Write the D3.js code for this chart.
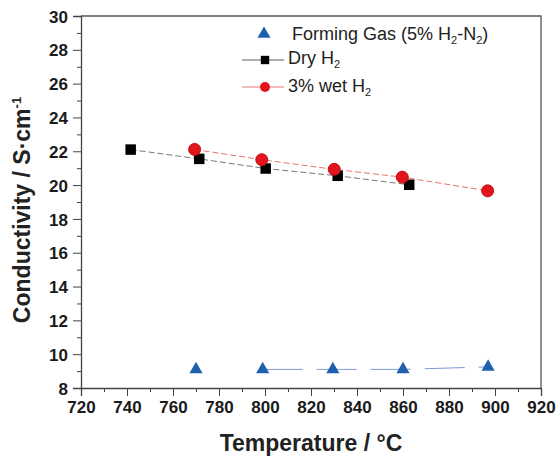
<!DOCTYPE html>
<html>
<head>
<meta charset="utf-8">
<script src="https://cdn.jsdelivr.net/npm/d3@7"></script>
<style>
  body { margin: 0; background: #fff; }
</style>
</head>
<body>
<svg width="558" height="457"></svg>
<script>
// temperatures in degC, conductivity in S/cm
var formingT = [770, 799, 829.5, 860, 897];
var formingC = [9.1, 9.1, 9.1, 9.1, 9.25];
var dryT = [741.6, 771.4, 800.3, 831.6, 862.7];
var dryC = [22.1, 21.55, 20.98, 20.55, 20.02];
var wetT = [769.4, 798.6, 830.1, 859.7, 896.8];
var wetC = [22.11, 21.5, 20.93, 20.47, 19.66];
var xTicks = [720, 740, 760, 780, 800, 820, 840, 860, 880, 900, 920];
var yTicks = [8, 10, 12, 14, 16, 18, 20, 22, 24, 26, 28, 30];

var font = "'Liberation Sans', Arial, sans-serif";
var svg = d3.select("svg").attr("font-family", font),
  margin = { top: 16, right: 17, bottom: 69, left: 81 },
  width = +svg.attr("width") - margin.left - margin.right,
  height = +svg.attr("height") - margin.top - margin.bottom;

var x = d3.scaleLinear().domain([720, 920]).range([0, width]);
var y = d3.scaleLinear().domain([8, 30]).range([height, 0]);

var g = svg.append("g").attr("transform", "translate(" + margin.left + "," + margin.top + ")");

function zip(a, b) {
  return a.map(function (v, i) { return [v, b[i]]; });
}

// minor ticks
g.append("g")
  .attr("transform", "translate(0," + height + ")")
  .call(d3.axisBottom(x).tickValues(d3.range(730, 920, 20)).tickSize(4).tickFormat(""))
  .call(function (s) { s.select(".domain").remove(); s.selectAll("line").attr("stroke", "#444"); });
g.append("g")
  .call(d3.axisLeft(y).tickValues(d3.range(9, 30, 2)).tickSize(4).tickFormat(""))
  .call(function (s) { s.select(".domain").remove(); s.selectAll("line").attr("stroke", "#444"); });

var xAxis = g.append("g")
  .attr("transform", "translate(0," + height + ")")
  .call(d3.axisBottom(x).tickValues(xTicks).tickSize(8).tickPadding(5));
var yAxis = g.append("g")
  .call(d3.axisLeft(y).tickValues(yTicks).tickSize(8).tickPadding(5));
[xAxis, yAxis].forEach(function (a) {
  a.select(".domain").attr("stroke", "#444").attr("stroke-width", 1.3);
  a.selectAll(".tick line").attr("stroke", "#444");
  a.selectAll(".tick text")
    .attr("font-family", font)
    .attr("font-size", 17)
    .attr("font-weight", 700)
    .attr("fill", "#1a1a1a");
});
yAxis.selectAll(".tick text").attr("dy", "0.36em");

// frame top and right
g.append("path")
  .attr("d", "M0,0H" + width + "V" + height)
  .attr("fill", "none")
  .attr("stroke", "#555")
  .attr("stroke-width", 1.3);

var line = d3.line()
  .x(function (d) { return x(d[0]); })
  .y(function (d) { return y(d[1]); });

g.append("path")
  .datum(zip(formingT, formingC).slice(1))
  .attr("d", line)
  .attr("fill", "none")
  .attr("stroke", "#7b9ad0")
  .attr("stroke-width", 1)
  .attr("stroke-dasharray", "40,14");

g.append("path")
  .datum(zip(dryT, dryC))
  .attr("d", line)
  .attr("fill", "none")
  .attr("stroke", "#555")
  .attr("stroke-width", 0.8)
  .attr("stroke-dasharray", "6,3");

g.append("path")
  .datum(zip(wetT, wetC))
  .attr("d", line)
  .attr("fill", "none")
  .attr("stroke", "#e05050")
  .attr("stroke-width", 0.8)
  .attr("stroke-dasharray", "6,3");

var tri = d3.symbol().type(d3.symbolTriangle).size(75);
var sq = d3.symbol().type(d3.symbolSquare).size(110);

g.selectAll(".tri")
  .data(zip(formingT, formingC))
  .enter().append("path")
  .attr("d", tri)
  .attr("fill", "#1f5fb0")
  .attr("transform", function (d) { return "translate(" + x(d[0]) + "," + y(d[1]) + ")"; });

g.selectAll(".sq")
  .data(zip(dryT, dryC))
  .enter().append("path")
  .attr("d", sq)
  .attr("fill", "#000")
  .attr("transform", function (d) { return "translate(" + x(d[0]) + "," + y(d[1]) + ")"; });

g.selectAll(".dot")
  .data(zip(wetT, wetC))
  .enter().append("circle")
  .attr("r", 6)
  .attr("fill", "#e2141c")
  .attr("stroke", "#c01018")
  .attr("cx", function (d) { return x(d[0]); })
  .attr("cy", function (d) { return y(d[1]); });

// legend
var leg = svg.append("g").attr("font-size", 18).attr("fill", "#222");
leg.append("path").attr("d", tri).attr("fill", "#1f5fb0").attr("transform", "translate(264,34)");
var t1 = leg.append("text").attr("x", 292).attr("y", 40);
t1.append("tspan").text("Forming Gas (5% H");
t1.append("tspan").attr("font-size", 11).attr("dy", 4).text("2");
t1.append("tspan").attr("dy", -4).text("-N");
t1.append("tspan").attr("font-size", 11).attr("dy", 4).text("2");
t1.append("tspan").attr("dy", -4).text(")");

leg.append("line").attr("x1", 242).attr("x2", 284).attr("y1", 60).attr("y2", 60).attr("stroke", "#333").attr("stroke-width", 0.8);
leg.append("path").attr("d", d3.symbol().type(d3.symbolSquare).size(70)).attr("fill", "#000").attr("transform", "translate(265,60)");
var t2 = leg.append("text").attr("x", 288).attr("y", 64);
t2.append("tspan").text("Dry H");
t2.append("tspan").attr("font-size", 11).attr("dy", 4).text("2");

leg.append("line").attr("x1", 242).attr("x2", 284).attr("y1", 87).attr("y2", 87).attr("stroke", "#e05050").attr("stroke-width", 0.8);
leg.append("circle").attr("cx", 265).attr("cy", 87).attr("r", 5).attr("fill", "#e2141c");
var t3 = leg.append("text").attr("x", 288).attr("y", 92);
t3.append("tspan").text("3% wet H");
t3.append("tspan").attr("font-size", 11).attr("dy", 4).text("2");

// axis titles
svg.append("text")
  .attr("x", 311)
  .attr("y", 451)
  .attr("text-anchor", "middle")
  .attr("font-size", 23)
  .attr("font-weight", "bold")
  .attr("fill", "#222")
  .text("Temperature / °C");

var yt = svg.append("text")
  .attr("transform", "translate(30,210) rotate(-90)")
  .attr("text-anchor", "middle")
  .attr("font-size", 23)
  .attr("font-weight", "bold")
  .attr("fill", "#222");
yt.append("tspan").text("Conductivity / S·cm");
yt.append("tspan").attr("font-size", 13).attr("dy", -9).text("-1");
</script>
</body>
</html>
